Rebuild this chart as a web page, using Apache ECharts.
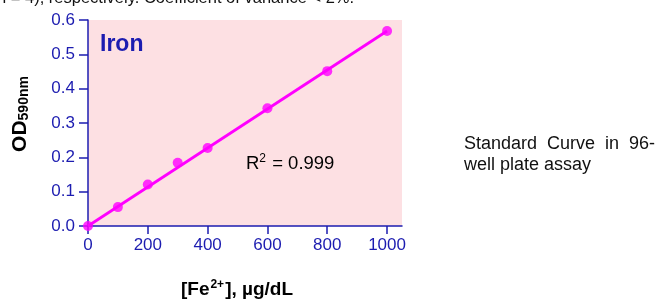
<!DOCTYPE html>
<html><head><meta charset="utf-8">
<script src="https://cdn.jsdelivr.net/npm/echarts@6/dist/echarts.min.js"></script>
<style>html,body{margin:0;padding:0;background:#fff}#c{width:662px;height:301px}</style>
</head><body><div id="c"></div>
<script>
const concentrations = [0, 100, 200, 300, 400, 600, 800, 1000];
const odValues = [0.0, 0.055, 0.121, 0.184, 0.227, 0.343, 0.451, 0.568];
const fitX = [0, 1000];
const fitY = [0.0, 0.568];
const xTicks = [0, 200, 400, 600, 800, 1000];
const yTicks = [0, 0.1, 0.2, 0.3, 0.4, 0.5, 0.6];

const blue = '#1c1cb0';
const font = 'Liberation Sans, Arial';
const chart = echarts.init(document.getElementById('c'));
chart.setOption({
  animation: false,
  grid: {left: 88, top: 20, right: 260, bottom: 75, show: true, backgroundColor: '#fde0e3', borderWidth: 0},
  xAxis: {
    type: 'value', min: 0, max: 1050, interval: 200,
    axisLine: {show: true, onZero: false, lineStyle: {color: blue, width: 1.5}},
    axisTick: {show: true, length: 8, customValues: xTicks, lineStyle: {color: blue, width: 1.5}},
    axisLabel: {customValues: xTicks, color: blue, fontSize: 17, fontFamily: font, margin: 11,
      formatter: v => String(v)},
    splitLine: {show: false}
  },
  yAxis: {
    type: 'value', min: 0, max: 0.6, interval: 0.1,
    axisLine: {show: true, lineStyle: {color: blue, width: 1.5}},
    axisTick: {show: true, length: 9, customValues: yTicks, lineStyle: {color: blue, width: 1.5}},
    axisLabel: {customValues: yTicks, color: blue, fontSize: 17, fontFamily: font, margin: 13,
      formatter: v => v.toFixed(1)},
    splitLine: {show: false}
  },
  series: [
    {type: 'line', data: fitX.map((x, i) => [x, fitY[i]]), showSymbol: false, symbol: 'none',
      lineStyle: {color: '#ff00ff', width: 2.8}, z: 2},
    {type: 'scatter', data: concentrations.map((x, i) => [x, odValues[i]]), symbol: 'circle', symbolSize: 10,
      itemStyle: {color: '#ff00ff'}, z: 3}
  ],
  graphic: [
    {type: 'text', left: -3, top: -10, style: {text: 'n = 4), respectively. Coefficient of variance < 2%.', font: '16.5px "Liberation Sans", Arial', fill: '#111'}},
    {type: 'text', left: 100, top: 33, style: {text: 'Iron', font: 'bold 23px "Liberation Sans", Arial', fill: blue}},
    {type: 'text', left: 246, top: 153, style: {
      rich: {
        a: {fontSize: 18.5, fontFamily: font, color: '#111'},
        s: {fontSize: 12, fontFamily: font, color: '#111', padding: [0, 1, 9, 0]}
      },
      text: '{a|R}{s|2}{a| = 0.999}'}},
    {type: 'text', left: 464, top: 134, style: {text: 'Standard  Curve  in  96-\nwell plate assay', font: '18px "Liberation Sans", Arial', fill: '#111', lineHeight: 21}},
    {type: 'text', x: 20, y: 114, rotation: Math.PI / 2, style: {
      rich: {
        a: {fontSize: 21, fontWeight: 'bold', fontFamily: font, color: blue},
        s: {fontSize: 14, fontWeight: 'bold', fontFamily: font, color: blue, padding: [9, 0, 0, 0]}
      },
      text: '{a|OD}{s|590nm}', align: 'center', verticalAlign: 'middle'}},
    {type: 'text', x: 237, y: 290, style: {
      rich: {
        a: {fontSize: 19, fontWeight: 'bold', fontFamily: font, color: blue},
        s: {fontSize: 12, fontWeight: 'bold', fontFamily: font, color: blue, padding: [0, 1, 10, 1]}
      },
      text: '{a|[Fe}{s|2+}{a|], µg/dL}', align: 'center', verticalAlign: 'middle'}}
  ]
});
</script></body></html>
